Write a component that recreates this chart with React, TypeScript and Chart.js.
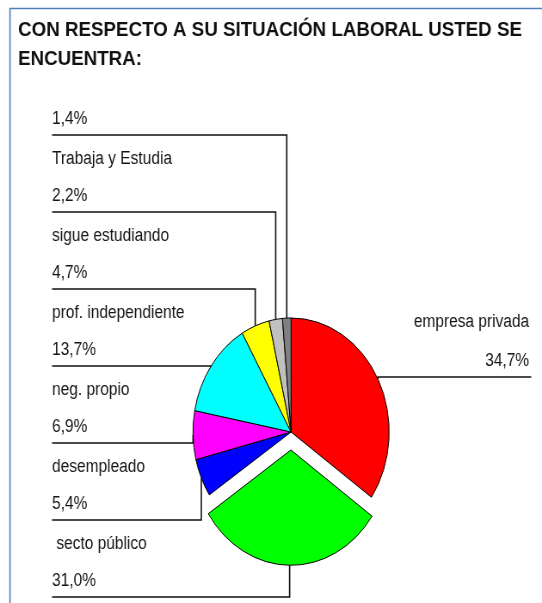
import React, { useEffect, useRef } from "react";
import { Chart, registerables } from "chart.js";

Chart.register(...registerables);

// ---- data ----
const titleLines = ["CON RESPECTO A SU SITUACIÓN LABORAL USTED SE", "ENCUENTRA:"];
const categories = [
  "empresa privada",
  " secto público",
  "desempleado",
  "neg. propio",
  "prof. independiente",
  "sigue estudiando",
  "Trabaja y Estudia",
  "",
];
const percentages = [34.7, 31.0, 5.4, 6.9, 13.7, 4.7, 2.2, 1.4];

// ---- style ----
const sliceColors = ["#FF0000", "#00FF00", "#0000FF", "#FF00FF", "#00FFFF", "#FFFF00", "#C0C0C0", "#808080"];
const sliceOffsets = [0, 72, 0, 0, 0, 0, 0, 0];

const VW = 630; // virtual drawing width (picture is horizontally compressed)
const VH = 603;
const SCREEN_W = 542;

const LABEL_FONT = '18px "Liberation Sans", Arial, sans-serif';
const TITLE_FONT = 'bold 21.8px "Liberation Sans", Arial, sans-serif';
const TITLE_VSCALE = 0.91;
const LEFT_X = 60.5;
const RIGHT_X = 615;
const RIGHT_LINE_END = 617.5;
const LADDER_TOP = 135;
const LADDER_STEP = 77;
const RIGHT_LINE_Y = 377;

const fmt = (v: number) => v.toFixed(1).replace(".", ",") + "%";

const overlay = {
  id: "overlay",
  beforeDraw(chart: any) {
    const ctx = chart.ctx as CanvasRenderingContext2D;
    ctx.save();
    ctx.fillStyle = "#ffffff";
    ctx.fillRect(0, 0, VW, VH);
    ctx.strokeStyle = "#4f7dba";
    ctx.lineWidth = 1.6;
    ctx.beginPath();
    ctx.moveTo(11.6, VH);
    ctx.lineTo(11.6, 8.5);
    ctx.lineTo(VW, 8.5);
    ctx.stroke();
    ctx.fillStyle = "#111111";
    ctx.font = TITLE_FONT;
    ctx.textAlign = "left";
    ctx.textBaseline = "alphabetic";
    ctx.scale(1, TITLE_VSCALE);
    titleLines.forEach((t, i) => ctx.fillText(t, 21, (36 + i * 29) / TITLE_VSCALE));
    ctx.restore();
  },
  afterDatasetsDraw(chart: any) {
    const ctx = chart.ctx as CanvasRenderingContext2D;
    const meta = chart.getDatasetMeta(0);
    ctx.save();
    ctx.strokeStyle = "#111111";
    ctx.lineWidth = 1.6;
    ctx.fillStyle = "#151515";
    ctx.font = LABEL_FONT;
    ctx.textBaseline = "alphabetic";
    const n = percentages.length;
    for (let k = 0; k < n; k++) {
      const arc = meta.data[k];
      const p = arc.getProps(["x", "y", "startAngle", "endAngle", "outerRadius"], true);
      const off = (arc.options.offset || 0) / 4;
      const circ = p.endAngle - p.startAngle;
      const r = p.outerRadius + off + off * (1 - Math.sin(Math.min(Math.PI, circ)));
      const mid = (p.startAngle + p.endAngle) / 2;
      const ax = p.x + Math.cos(mid) * r;
      const ay = p.y + Math.sin(mid) * r;
      if (k === 0) {
        const ly = RIGHT_LINE_Y;
        ctx.beginPath();
        ctx.moveTo(RIGHT_LINE_END, ly);
        ctx.lineTo(ax, ly);
        ctx.lineTo(ax, ay);
        ctx.stroke();
        ctx.textAlign = "right";
        ctx.fillText(categories[k], RIGHT_X, ly - 50);
        ctx.fillText(fmt(percentages[k]), RIGHT_X, ly - 11.5);
      } else {
        const i = n - 1 - k;
        const ly = LADDER_TOP + LADDER_STEP * i;
        ctx.beginPath();
        ctx.moveTo(LEFT_X, ly);
        ctx.lineTo(ax, ly);
        ctx.lineTo(ax, ay);
        ctx.stroke();
        ctx.textAlign = "left";
        if (categories[k]) ctx.fillText(categories[k], LEFT_X, ly - 48);
        ctx.fillText(fmt(percentages[k]), LEFT_X, ly - 11.5);
      }
    }
    ctx.restore();
  },
};

export default function App() {
  const ref = useRef<HTMLCanvasElement>(null);
  useEffect(() => {
    if (!ref.current) return;
    const chart = new Chart(ref.current, {
      type: "pie",
      data: {
        labels: categories,
        datasets: [
          {
            data: percentages,
            backgroundColor: sliceColors,
            borderColor: "#000000",
            borderWidth: 1,
            offset: sliceOffsets,
            radius: 114,
          } as any,
        ],
      },
      options: {
        responsive: false,
        animation: false,
        events: [],
        layout: { padding: { left: 188.3, right: 141.7, top: 282, bottom: 21 } },
        plugins: {
          legend: { display: false },
          tooltip: { enabled: false },
          title: { display: false },
        },
      },
      plugins: [overlay],
    });
    return () => chart.destroy();
  }, []);
  return (
    <div style={{ position: "fixed", left: 0, top: 0, width: SCREEN_W, height: VH, background: "#fff" }}>
      <canvas
        ref={ref}
        width={VW}
        height={VH}
        style={{ width: SCREEN_W + "px", height: VH + "px", display: "block" }}
      />
    </div>
  );
}
